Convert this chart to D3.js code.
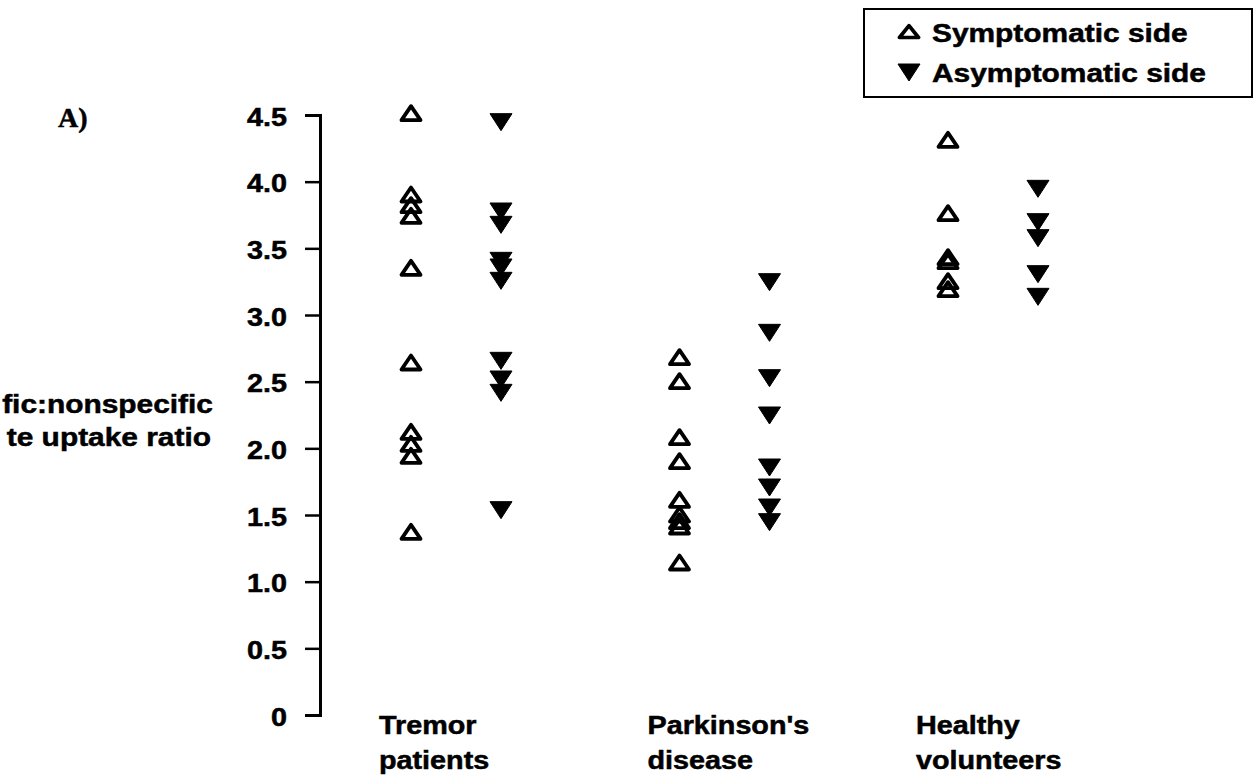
<!DOCTYPE html>
<html>
<head>
<meta charset="utf-8">
<script src="https://cdn.jsdelivr.net/npm/d3@7"></script>
<style>
  body { margin: 0; background: #fff; }
  text { font-family: "Liberation Sans", Arial, sans-serif; font-weight: bold; fill: #000; stroke: #000; stroke-width: 0.5px; }
</style>
</head>
<body>
<div id="chart"></div>
<script>
// groups along the x axis, label split in two lines
const categories = ["Tremor patients", "Parkinson's disease", "Healthy volunteers"];
const categoryLines = [["Tremor", "patients"], ["Parkinson's", "disease"], ["Healthy", "volunteers"]];

// specific:nonspecific uptake ratio
const symptomatic = [
  [4.51, 3.90, 3.82, 3.74, 3.35, 2.64, 2.12, 2.03, 1.94, 1.37],
  [2.68, 2.50, 2.08, 1.90, 1.61, 1.50, 1.45, 1.41, 1.14],
  [4.31, 3.76, 3.43, 3.40, 3.25, 3.19]
];
const asymptomatic = [
  [4.45, 3.78, 3.68, 3.41, 3.36, 3.26, 2.66, 2.52, 2.42, 1.54],
  [3.25, 2.87, 2.53, 2.25, 1.86, 1.71, 1.56, 1.45],
  [3.95, 3.70, 3.58, 3.31, 3.14]
];

const tickValues = [0, 0.5, 1.0, 1.5, 2.0, 2.5, 3.0, 3.5, 4.0, 4.5];
const legendLabels = ["Symptomatic side", "Asymptomatic side"];

const width = 1257;
const height = 782;
const stretch = 1.15; // the scan is a bit wider than tall

let svg = d3.select("#chart")
  .append("svg")
  .attr("width", width)
  .attr("height", height);

let yScale = d3.scaleLinear()
  .domain([0, 4.5])
  .range([715, 115]);

let xScale = d3.scalePoint()
  .domain(categories)
  .range([456, 993]);

const sideOffset = 45;

const upPath = "M0,-7.5 L9.5,6.5 L-9.5,6.5 Z";
const downPath = "M-11,-8 L11,-8 L0,9 Z";

// wide text helper
function wideText(g, x, y, str, size, anchor) {
  return g.append("text")
    .attr("transform", `translate(${x},${y}) scale(${stretch},1)`)
    .attr("text-anchor", anchor || "start")
    .style("font-size", size + "px")
    .text(str);
}

// y axis
let yAxis = svg.append("g")
  .attr("class", "axis axis--y")
  .attr("transform", "translate(320,0)")
  .call(d3.axisLeft(yScale)
    .tickValues(tickValues)
    .tickSizeOuter(0)
    .tickSize(15)
    .tickFormat(d => d === 0 ? "0" : d3.format(".1f")(d)));

yAxis.select(".domain").attr("stroke", "#000").attr("stroke-width", 3);
yAxis.selectAll(".tick line").attr("stroke", "#000").attr("stroke-width", 2.5);
yAxis.selectAll(".tick text")
  .attr("x", 0)
  .attr("dy", "0.4em")
  .attr("transform", `translate(-33,0) scale(${stretch},1)`)
  .style("font-size", "25px")
  .style("font-family", "'Liberation Sans', Arial, sans-serif")
  .style("font-weight", "bold")
  .attr("fill", "#000");

// y label, cut off at the left edge in the scan
wideText(svg, 213, 413, "fic:nonspecific", 26, "end");
wideText(svg, 211, 446, "te uptake ratio", 26, "end");

svg.append("text")
  .attr("x", 58)
  .attr("y", 127)
  .style("font-family", "'Liberation Serif', 'Times New Roman', serif")
  .style("font-size", "28px")
  .text("A)");

// category labels
categories.forEach((c, i) => {
  const x0 = xScale(c) - 77;
  wideText(svg, x0, 734, categoryLines[i][0], 25);
  wideText(svg, x0, 769, categoryLines[i][1], 25);
});

// points
let points = svg.append("g").attr("class", "points");

categories.forEach((c, i) => {
  points.selectAll(".sym-" + i)
    .data(symptomatic[i])
    .enter()
    .append("path")
    .attr("class", "sym-" + i)
    .attr("d", upPath)
    .attr("transform", d => `translate(${xScale(c) - sideOffset},${yScale(d)})`)
    .attr("fill", "none")
    .attr("stroke", "#000")
    .attr("stroke-width", 3.8)
    .attr("stroke-linejoin", "round");

  points.selectAll(".asym-" + i)
    .data(asymptomatic[i])
    .enter()
    .append("path")
    .attr("class", "asym-" + i)
    .attr("d", downPath)
    .attr("transform", d => `translate(${xScale(c) + sideOffset},${yScale(d)})`)
    .attr("fill", "#000")
    .attr("stroke", "#000")
    .attr("stroke-width", 1)
    .attr("stroke-linejoin", "round");
});

// legend
let legend = svg.append("g").attr("class", "legend");

legend.append("rect")
  .attr("x", 864)
  .attr("y", 9)
  .attr("width", 388)
  .attr("height", 88)
  .attr("fill", "#fff")
  .attr("stroke", "#000")
  .attr("stroke-width", 2);

legend.append("path")
  .attr("d", upPath)
  .attr("transform", "translate(909,32) scale(1,0.85)")
  .attr("fill", "none")
  .attr("stroke", "#000")
  .attr("stroke-width", 4)
  .attr("stroke-linejoin", "round");

legend.append("path")
  .attr("d", downPath)
  .attr("transform", "translate(909,72)")
  .attr("fill", "#000")
  .attr("stroke", "#000")
  .attr("stroke-width", 1);

wideText(legend, 932, 42, legendLabels[0], 26);
wideText(legend, 932, 82, legendLabels[1], 26);
</script>
</body>
</html>
